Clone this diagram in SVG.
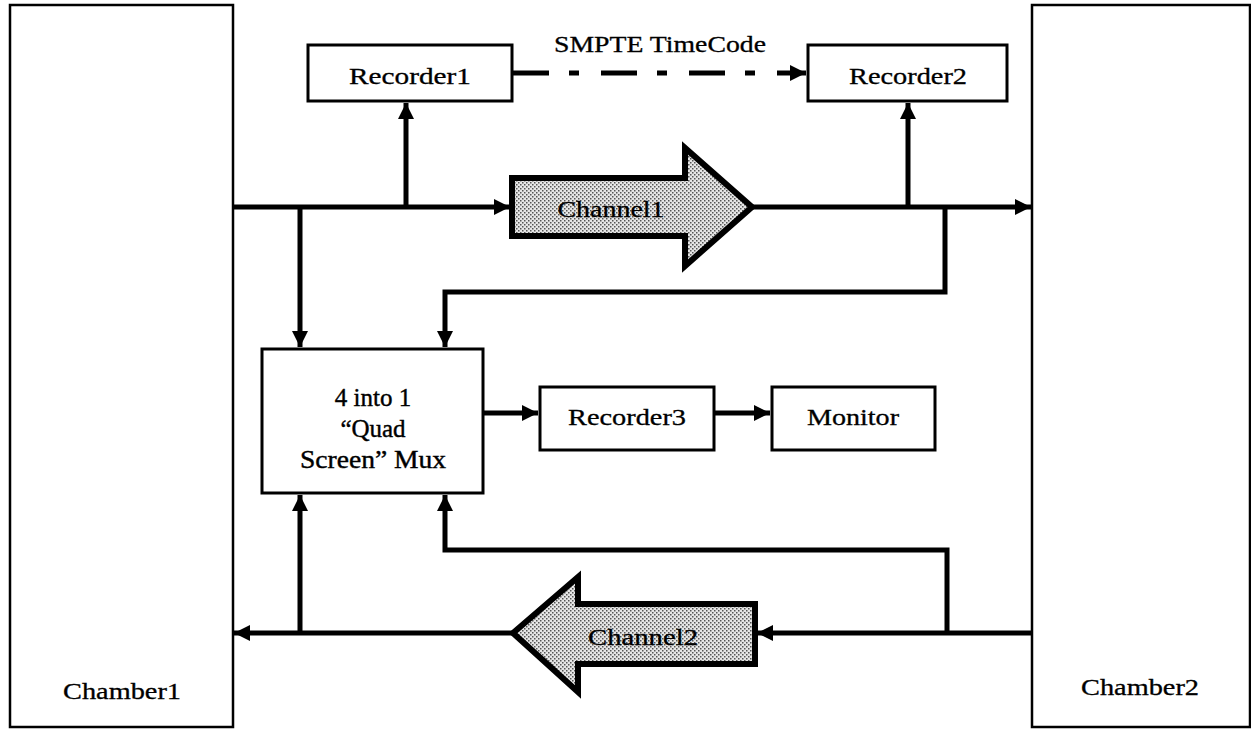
<svg xmlns="http://www.w3.org/2000/svg" width="1251" height="730" viewBox="0 0 1251 730">
<style>
.box{fill:#fff;stroke:#000;stroke-width:3}
.ch{fill:#fff;stroke:#000;stroke-width:2.5}
.lbl{font-family:"Liberation Serif",serif;font-size:23px;fill:#000;stroke:#000;stroke-width:0.3;text-anchor:middle}
.mux{font-family:"Liberation Serif",serif;font-size:25px;fill:#000;stroke:#000;stroke-width:0.4;text-anchor:middle}
.ln{fill:none;stroke:#000;stroke-width:5}
.big{fill:url(#dots);stroke:#000;stroke-width:6;stroke-linejoin:miter}
</style>
<defs>
<pattern id="dots" width="4" height="4" patternUnits="userSpaceOnUse">
<rect width="4" height="4" fill="#e6e6e6"/>
<rect x="0" y="0" width="1.5" height="1.5" fill="#555"/>
<rect x="2" y="2" width="1.5" height="1.5" fill="#555"/>
</pattern>
<marker id="ah" viewBox="0 0 16 16" refX="16" refY="8" markerWidth="16" markerHeight="16" markerUnits="userSpaceOnUse" orient="auto">
<path d="M0,0 L16,8 L0,16 z" fill="#000"/>
</marker>
</defs>

<g id="chamber1"><rect class="ch" x="10" y="5" width="223" height="722"/><text class="lbl" x="122" y="699" textLength="118" lengthAdjust="spacingAndGlyphs">Chamber1</text></g>
<g id="chamber2"><rect class="ch" x="1032" y="5" width="218" height="722"/><text class="lbl" x="1140" y="695" textLength="118" lengthAdjust="spacingAndGlyphs">Chamber2</text></g>
<g id="recorder1"><rect class="box" x="308" y="45" width="204" height="56"/><text class="lbl" x="410" y="84" textLength="122" lengthAdjust="spacingAndGlyphs">Recorder1</text></g>
<g id="recorder2"><rect class="box" x="808" y="45" width="199" height="56"/><text class="lbl" x="908" y="84" textLength="118" lengthAdjust="spacingAndGlyphs">Recorder2</text></g>
<g id="smpte"><text class="lbl" x="660" y="52" textLength="212" lengthAdjust="spacingAndGlyphs">SMPTE TimeCode</text></g>
<g id="mux"><rect class="box" x="262" y="349" width="221" height="144"/>
<text class="mux" x="373" y="406">4 into 1</text>
<text class="mux" x="373" y="437">“Quad</text>
<text class="mux" x="373" y="468" textLength="146" lengthAdjust="spacingAndGlyphs">Screen” Mux</text></g>
<g id="recorder3"><rect class="box" x="540" y="387" width="174" height="63"/><text class="lbl" x="627" y="425" textLength="118" lengthAdjust="spacingAndGlyphs">Recorder3</text></g>
<g id="monitor"><rect class="box" x="772" y="387" width="163" height="63"/><text class="lbl" x="853" y="425" textLength="92" lengthAdjust="spacingAndGlyphs">Monitor</text></g>
<g id="channel1"><path class="big" d="M512,178 L685,178 L685,148 L752,207 L685,266 L685,236 L512,236 Z"/><text class="lbl" x="611" y="217" textLength="107" lengthAdjust="spacingAndGlyphs">Channel1</text></g>
<g id="channel2"><path class="big" d="M755,604 L578,604 L578,577 L513,633 L578,692 L578,664 L755,664 Z"/><text class="lbl" x="643" y="645" textLength="110" lengthAdjust="spacingAndGlyphs">Channel2</text></g>

<g id="connectors">
<path class="ln" d="M233,207 L510,207" marker-end="url(#ah)"/>
<path class="ln" d="M406,207 L406,103" marker-end="url(#ah)"/>
<path class="ln" d="M300,207 L300,347" marker-end="url(#ah)"/>
<path class="ln" d="M752,207 L1031,207" marker-end="url(#ah)"/>
<path class="ln" d="M908,207 L908,103" marker-end="url(#ah)"/>
<path class="ln" d="M945,207 L945,292 L445,292 L445,347" marker-end="url(#ah)"/>
<path class="ln" d="M513,73 L806,73" stroke-dasharray="36,20,10,22" marker-end="url(#ah)"/>
<path class="ln" d="M483,413 L538,413" marker-end="url(#ah)"/>
<path class="ln" d="M714,413 L770,413" marker-end="url(#ah)"/>
<path class="ln" d="M1032,633 L757,633" marker-end="url(#ah)"/>
<path class="ln" d="M513,633 L234,633" marker-end="url(#ah)"/>
<path class="ln" d="M300,633 L300,495" marker-end="url(#ah)"/>
<path class="ln" d="M947,633 L947,550 L445,550 L445,495" marker-end="url(#ah)"/>
</g>
</svg>
